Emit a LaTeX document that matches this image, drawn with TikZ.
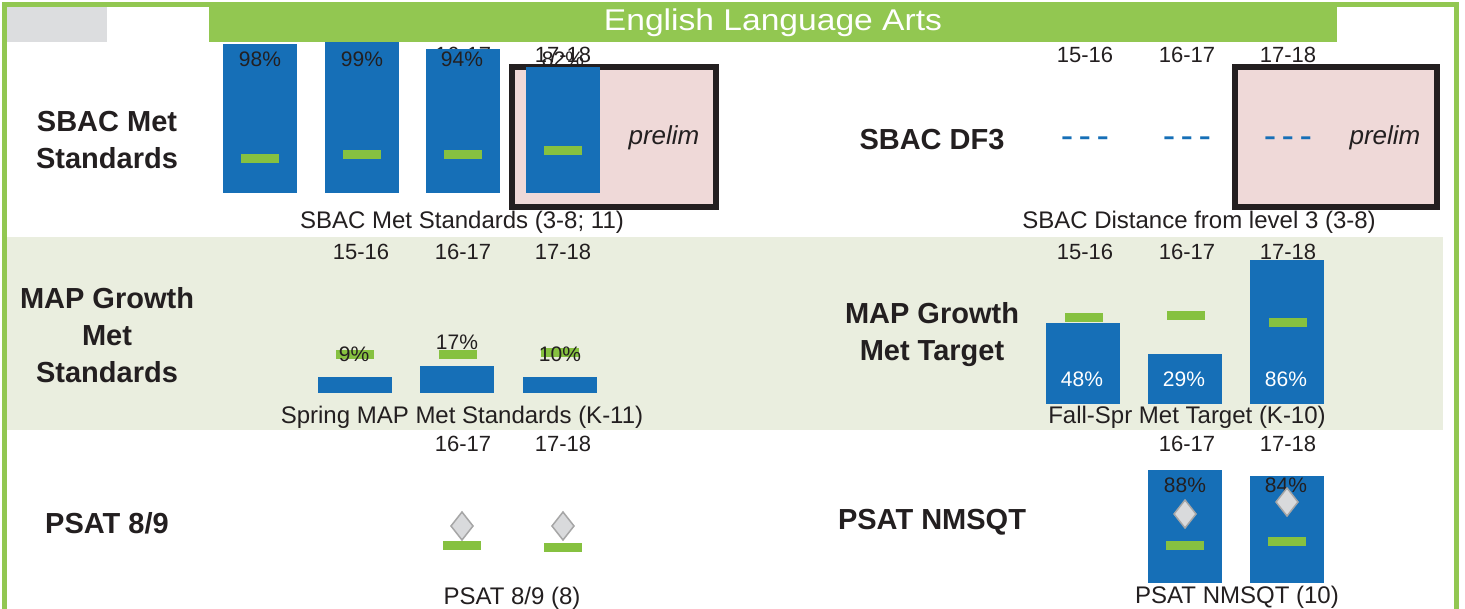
\documentclass[tikz,border=0pt]{standalone}
\usepackage{fontspec}
\setmainfont{Liberation Sans}
\definecolor{barblue}{RGB}{22,111,183}
\definecolor{mkgreen}{RGB}{134,193,64}
\definecolor{frgreen}{RGB}{146,199,81}
\definecolor{grayrect}{RGB}{220,221,223}
\definecolor{band}{RGB}{234,238,223}
\definecolor{pinkbg}{RGB}{239,217,216}
\definecolor{frameblk}{RGB}{35,31,32}
\definecolor{dia}{RGB}{217,218,220}
\definecolor{diaedge}{RGB}{166,166,166}
\definecolor{txt}{RGB}{35,31,32}
\newcommand{\mybar}[3]{\fill[barblue] (#1-37,#2) rectangle (#1+37,#3);}
\newcommand{\mymk}[2]{\fill[mkgreen] (#1-19,#2-4.5) rectangle (#1+19,#2+4.5);}
\newcommand{\mydmd}[2]{\filldraw[fill=dia,draw=diaedge,line width=1.5pt] (#1,#2-14) -- (#1+11,#2) -- (#1,#2+14) -- (#1-11,#2) -- cycle;}
\begin{document}
\begin{tikzpicture}[x=1pt,y=-1pt,
  lbl/.style={inner sep=0pt, text=txt, font=\fontsize{22}{26}\selectfont},
  captxt/.style={inner sep=0pt, text=txt, font=\fontsize{24}{28}\selectfont},
  pct/.style={inner sep=0pt, text=txt, font=\fontsize{21}{24}\selectfont},
  wpct/.style={pct, text=white},
  head/.style={inner sep=0pt, text=txt, font=\bfseries\fontsize{29}{37}\selectfont, align=center},
  prel/.style={inner sep=0pt, text=txt, font=\itshape\fontsize{26}{28}\selectfont},
  dash3/.style={inner sep=0pt, text=barblue, font=\bfseries\fontsize{24}{26}\selectfont},
  prelframe/.style={draw=frameblk, line width=6pt}]
\useasboundingbox (0,0) rectangle (1465,609);
\fill[white] (0,0) rectangle (1465,609);
% frame
\fill[frgreen] (2,2) rectangle (1459,7);
\fill[frgreen] (2,2) rectangle (7,609);
\fill[frgreen] (1454,2) rectangle (1459,609);
\fill[grayrect] (7,7) rectangle (107,42);
\fill[frgreen] (209,7) rectangle (1337,42);
\node[inner sep=0pt, text=white, font=\fontsize{30}{32}\selectfont] (title) at (773,23) {\scalebox{1.12}[1]{English Language Arts}};
% middle band
\fill[band] (7,237) rectangle (1443,430);

% ===== SBAC Met Standards =====
\node[head] (h1) at (107,140) {SBAC Met\\Standards};
\fill[pinkbg] (512,67) rectangle (716,207);
\draw[prelframe] (512,67) rectangle (716,207);
\node[lbl] (y1c) at (463,55) {16-17};
\node[lbl] (y1d) at (563,55) {17-18};
\mybar{260}{44}{193}
\mybar{362}{42}{193}
\mybar{463}{49}{193}
\mybar{563}{67}{193}
\mymk{260}{159}
\mymk{362}{155}
\mymk{463}{155}
\mymk{563}{151}
\node[pct] (p1a) at (260,59) {98\%};
\node[pct] (p1b) at (362,59) {99\%};
\node[pct] (p1c) at (462,59) {94\%};
\node[pct] (p1d) at (563,59) {82\%};
\node[prel] (pre1) at (664,138) {prelim};
\node[captxt] (c1) at (462,222) {SBAC Met Standards (3-8; 11)};

% ===== SBAC DF3 =====
\node[head] (h2) at (932,140) {SBAC DF3};
\fill[pinkbg] (1235,67) rectangle (1437,207);
\draw[prelframe] (1235,67) rectangle (1437,207);
\node[lbl] (y2a) at (1085,55) {15-16};
\node[lbl] (y2b) at (1187,55) {16-17};
\node[lbl] (y2c) at (1288,55) {17-18};
\node[dash3] (d2a) at (1085,141) {\scalebox{1.5}[1]{-\,-\,-}};
\node[dash3] (d2b) at (1187,141) {\scalebox{1.5}[1]{-\,-\,-}};
\node[dash3] (d2c) at (1288,141) {\scalebox{1.5}[1]{-\,-\,-}};
\node[prel] (pre2) at (1385,138) {prelim};
\node[captxt] (c2) at (1199,222) {SBAC Distance from level 3 (3-8)};

% ===== MAP Growth Met Standards =====
\node[head] (h3) at (107,335) {MAP Growth\\Met\\Standards};
\node[lbl] (y3a) at (361,252) {15-16};
\node[lbl] (y3b) at (463,252) {16-17};
\node[lbl] (y3c) at (563,252) {17-18};
\mybar{355}{377}{393}
\mybar{457}{366}{393}
\mybar{560}{377}{393}
\mymk{355}{355}
\mymk{458}{355}
\mymk{560}{353}
\node[pct] (p3a) at (354,354) {9\%};
\node[pct] (p3b) at (457,342) {17\%};
\node[pct] (p3c) at (560,354) {10\%};
\node[captxt] (c3) at (462,417) {Spring MAP Met Standards (K-11)};

% ===== MAP Growth Met Target =====
\node[head] (h4) at (932,335) {MAP Growth\\Met Target};
\node[lbl] (y4a) at (1085,252) {15-16};
\node[lbl] (y4b) at (1187,252) {16-17};
\node[lbl] (y4c) at (1288,252) {17-18};
\mybar{1083}{323}{404}
\mybar{1185}{354}{404}
\mybar{1287}{260}{404}
\mymk{1084}{318}
\mymk{1186}{316}
\mymk{1288}{323}
\node[wpct] (p4a) at (1082,379) {48\%};
\node[wpct] (p4b) at (1184,379) {29\%};
\node[wpct] (p4c) at (1286,379) {86\%};
\node[captxt] (c4) at (1187,417) {Fall-Spr Met Target (K-10)};

% ===== PSAT 8/9 =====
\node[head] (h5) at (107,523) {PSAT 8/9};
\node[lbl] (y5a) at (463,444) {16-17};
\node[lbl] (y5b) at (563,444) {17-18};
\mydmd{462}{526}
\mydmd{563}{526}
\mymk{462}{545}
\mymk{563}{547}
\node[captxt] (c5) at (512,598) {PSAT 8/9 (8)};

% ===== PSAT NMSQT =====
\node[head] (h6) at (932,522) {PSAT NMSQT};
\node[lbl] (y6a) at (1187,444) {16-17};
\node[lbl] (y6b) at (1288,444) {17-18};
\mybar{1185}{470}{583}
\mybar{1287}{476}{583}
\node[pct] (p6a) at (1185,485) {88\%};
\node[pct] (p6b) at (1286,485) {84\%};
\mydmd{1185}{514}
\mydmd{1287}{502}
\mymk{1185}{545}
\mymk{1287}{541}
\node[captxt] (c6) at (1237,597) {PSAT NMSQT (10)};
\end{tikzpicture}
\end{document}
